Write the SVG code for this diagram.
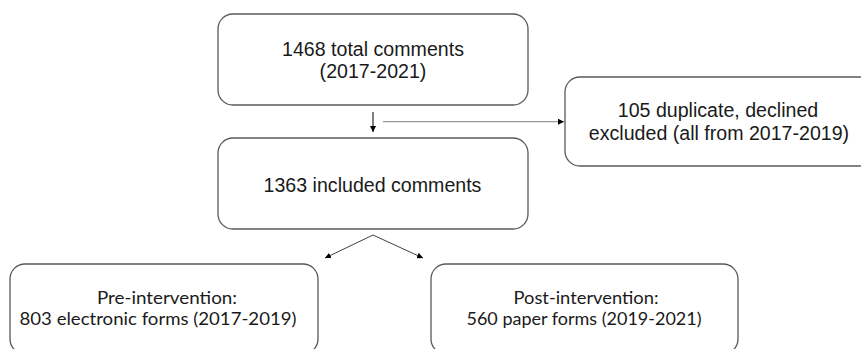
<svg xmlns="http://www.w3.org/2000/svg" width="861" height="349" viewBox="0 0 861 349">
<defs>
<style>
.box{fill:#ffffff;stroke:#595959;stroke-width:1.3}
.t{font-family:"Liberation Sans",Arial,sans-serif;font-size:19.6px;fill:#1a1a1a;text-anchor:middle}
.c{font-family:Lato,"Open Sans",sans-serif;font-size:18px;fill:#1a1a1a;text-anchor:middle}
.ln{fill:none;stroke:#404040;stroke-width:1}
</style>
<marker id="ah" viewBox="0 0 10 10" refX="10" refY="5" markerWidth="6" markerHeight="6" markerUnits="userSpaceOnUse" orient="auto">
<path d="M0,0 L10,5 L0,10 Z" fill="#000000"/>
</marker>
</defs>
<rect width="861" height="349" fill="#ffffff"/>
<g id="n1">
<rect class="box" x="218" y="14" width="310" height="91" rx="15" ry="15"/>
<text class="t" x="373" y="56">1468 total comments</text>
<text class="t" x="373" y="77.5">(2017-2021)</text>
</g>
<g id="n2">
<rect class="box" x="218" y="138" width="310" height="91" rx="15" ry="15"/>
<text class="t" x="372.5" y="192">1363 included comments</text>
</g>
<g id="n3">
<rect class="box" x="565" y="77" width="310" height="89" rx="15" ry="15"/>
<text class="t" x="718" y="117">105 duplicate, declined</text>
<text class="t" x="719" y="140">excluded (all from 2017-2019)</text>
</g>
<g id="n4">
<rect class="box" x="10" y="264" width="308" height="90" rx="15" ry="15"/>
<text class="c" x="167" y="304" textLength="140" lengthAdjust="spacingAndGlyphs">Pre-intervention:</text>
<text class="c" x="158" y="325" textLength="277" lengthAdjust="spacingAndGlyphs">803 electronic forms (2017-2019)</text>
</g>
<g id="n5">
<rect class="box" x="431" y="264" width="307" height="90" rx="15" ry="15"/>
<text class="c" x="586" y="304" textLength="145" lengthAdjust="spacingAndGlyphs">Post-intervention:</text>
<text class="c" x="584" y="325" textLength="235" lengthAdjust="spacingAndGlyphs">560 paper forms (2019-2021)</text>
</g>
<g id="connectors">
<line x1="373" y1="112" x2="373" y2="132" stroke="#000000" stroke-width="1" marker-end="url(#ah)"/>
<line x1="383" y1="121.7" x2="564" y2="121.7" stroke="#808080" stroke-width="1" marker-end="url(#ah)"/>
<line class="ln" x1="373" y1="235" x2="325" y2="258" marker-end="url(#ah)"/>
<line class="ln" x1="373" y1="235" x2="423" y2="258" marker-end="url(#ah)"/>
</g>
</svg>
